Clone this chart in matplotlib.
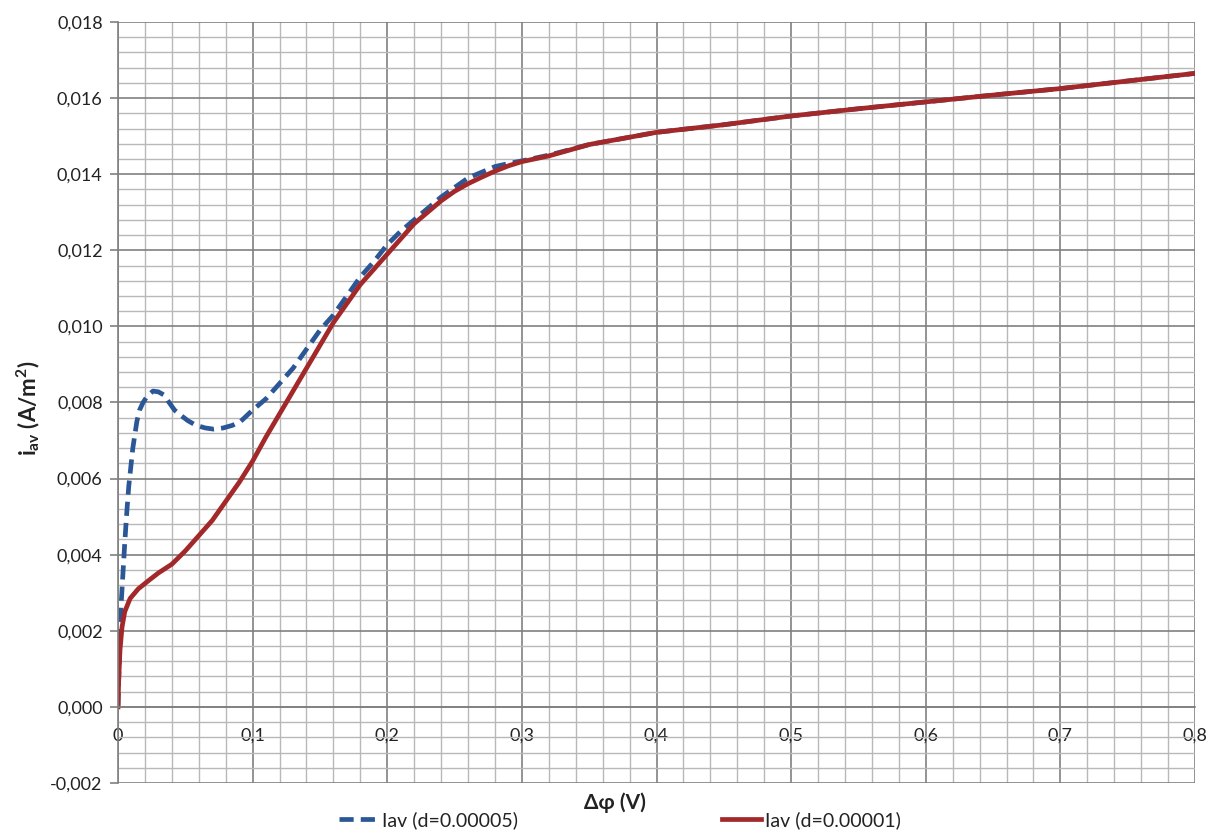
import matplotlib
matplotlib.use("Agg")
import matplotlib.pyplot as plt
from matplotlib.ticker import MultipleLocator, FuncFormatter

plt.rcParams['font.family'] = ['Lato', 'DejaVu Sans']
plt.rcParams['mathtext.fontset'] = 'custom'
plt.rcParams['mathtext.rm'] = 'Lato'
plt.rcParams['mathtext.bf'] = 'Lato:bold'

# Iav (d=0.00005) - blue dashed
x_blue = [0, 0.0005, 0.0015, 0.0025, 0.0035, 0.005, 0.0065, 0.008, 0.011, 0.014,
          0.016, 0.0186, 0.022, 0.026, 0.03, 0.034, 0.038, 0.042, 0.046, 0.052,
          0.058, 0.065, 0.071, 0.078, 0.085, 0.091, 0.1, 0.11, 0.12, 0.13,
          0.14, 0.15, 0.16, 0.17, 0.18, 0.19, 0.2, 0.21, 0.22, 0.23,
          0.24, 0.25, 0.26, 0.27, 0.28, 0.29, 0.3, 0.32, 0.35, 0.4,
          0.45, 0.5, 0.55, 0.6, 0.65, 0.7, 0.75, 0.8]
y_blue = [0, 0.0007, 0.0018, 0.0028, 0.0034, 0.0043, 0.0051, 0.0058, 0.0068, 0.0075,
          0.0078, 0.0080, 0.00818, 0.0083, 0.00828, 0.0082, 0.0080, 0.0078, 0.00768, 0.00752,
          0.0074, 0.00733, 0.0073, 0.00733, 0.0074, 0.0075, 0.0078, 0.0081, 0.0085, 0.0089,
          0.0094, 0.0099, 0.0103, 0.0108, 0.0113, 0.0117, 0.01215, 0.0125, 0.0128, 0.0131,
          0.0134, 0.01365, 0.0139, 0.01405, 0.0142, 0.01428, 0.01435, 0.0145, 0.01478, 0.0151,
          0.0153, 0.01553, 0.01572, 0.0159, 0.01608, 0.01625, 0.01645, 0.01665]

# Iav (d=0.00001) - red solid
x_red = [0, 0.0005, 0.0015, 0.003, 0.005, 0.009, 0.015, 0.022, 0.03, 0.04,
         0.05, 0.06, 0.07, 0.08, 0.09, 0.1, 0.11, 0.12, 0.13, 0.14,
         0.15, 0.16, 0.17, 0.18, 0.19, 0.2, 0.21, 0.22, 0.23, 0.24,
         0.25, 0.26, 0.27, 0.28, 0.29, 0.3, 0.32, 0.35, 0.4, 0.45,
         0.5, 0.55, 0.6, 0.65, 0.7, 0.75, 0.8]
y_red = [0, 0.0007, 0.0015, 0.0021, 0.0025, 0.00285, 0.0031, 0.0033, 0.00352, 0.00375,
         0.0041, 0.0045, 0.0049, 0.0054, 0.0059, 0.00646, 0.0071, 0.0077, 0.0083, 0.0089,
         0.0095, 0.0101, 0.0106, 0.0111, 0.0115, 0.0119, 0.0123, 0.0127, 0.0130, 0.0133,
         0.01355, 0.01375, 0.01392, 0.01408, 0.01422, 0.01433, 0.01448, 0.01478, 0.0151, 0.0153,
         0.01553, 0.01572, 0.0159, 0.01608, 0.01625, 0.01645, 0.01665]

blue = '#2b5797'
red = '#a3282a'

fig = plt.figure(figsize=(12.12, 8.30), dpi=100)
ax = fig.add_axes([118/1212, 1 - 783/830, (1195 - 118)/1212, (783 - 22)/830])

ax.set_xlim(0, 0.8)
ax.set_ylim(-0.002, 0.018)

ax.xaxis.set_major_locator(MultipleLocator(0.1))
ax.xaxis.set_minor_locator(MultipleLocator(0.02))
ax.yaxis.set_major_locator(MultipleLocator(0.002))
ax.yaxis.set_minor_locator(MultipleLocator(0.0004))

ax.grid(which='minor', color='#b8b8b8', lw=1.0)
ax.grid(which='major', color='#808080', lw=1.2)
ax.set_axisbelow(True)

ax.plot(x_blue, y_blue, color=blue, lw=3.4, dashes=(3.0, 1.5),
        label='Iav (d=0.00005)')
ax.plot(x_red, y_red, color=red, lw=3.4, label='Iav (d=0.00001)')

for s in ['top', 'right']:
    ax.spines[s].set_visible(False)
ax.spines['bottom'].set_position(('data', 0))
ax.spines['bottom'].set_color('#808080')
ax.spines['bottom'].set_linewidth(1.2)
ax.spines['left'].set_color('#808080')
ax.spines['left'].set_linewidth(1.2)

ax.xaxis.set_major_formatter(FuncFormatter(lambda v, p: ('%g' % round(v, 3)).replace('.', ',')))
ax.yaxis.set_major_formatter(FuncFormatter(lambda v, p: ('%.3f' % v).replace('.', ',').replace('-0,000', '0,000')))
ax.tick_params(axis='x', which='both', length=0, pad=15, labelsize=13, colors='#222222')
ax.tick_params(axis='y', which='major', length=6, width=1.2, color='#808080',
               direction='out', pad=5, labelsize=13, labelcolor='#222222')
ax.tick_params(axis='y', which='minor', length=0)

fig.text(28/1212, 1 - 408/830, r'$\mathbf{i_{av}}$ (A/m$^{\mathbf{2}}$)', rotation=90,
         ha='center', va='center', fontsize=16, fontweight='bold', color='#222222')
fig.text(615/1212, 1 - 803/830, 'Δφ (V)', ha='center', va='center',
         fontsize=15, fontweight='bold', color='#222222')

fig.legend(loc='center', bbox_to_anchor=(620/1212, 1 - 820/830), ncol=2,
           frameon=False, fontsize=14, handlelength=2.0, handletextpad=0.2,
           columnspacing=10.5, labelcolor='#222222')

fig.savefig('out.png', dpi=100, facecolor='white')
